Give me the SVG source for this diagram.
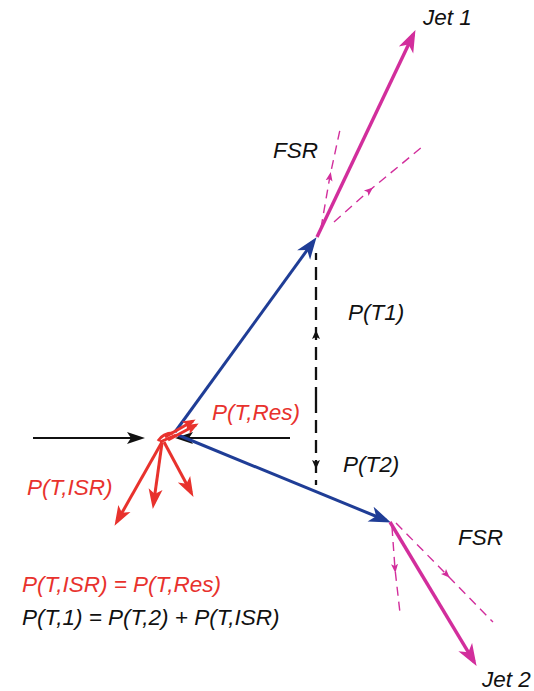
<svg xmlns="http://www.w3.org/2000/svg" width="534" height="691" viewBox="0 0 534 691">
<style>
text{font-family:"Liberation Sans",Arial,sans-serif;font-style:italic;font-size:22.5px}
.blk{fill:#111}
.red{fill:#e8322d}
.blue{stroke:#1f3d96;stroke-width:3;fill:none}
.jet{stroke:#d22e9c;stroke-width:3.4;fill:none}
.rd{stroke:#e8322d;stroke-width:3;fill:none}
.bk{stroke:#111;stroke-width:2;fill:none}
.fsr{stroke:#d22e9c;stroke-width:1.4;fill:none;stroke-dasharray:9 6}
.dsh{stroke:#111;stroke-width:2.3;fill:none;stroke-dasharray:13 7}
</style>
<defs>
<marker id="mb" markerUnits="userSpaceOnUse" markerWidth="24" markerHeight="18" viewBox="0 -9 24 18" refX="17" refY="0" orient="auto"><path d="M0,-8 L22,0 L0,8 L6,0 z" fill="#1f3d96"/></marker>
<marker id="mj" markerUnits="userSpaceOnUse" markerWidth="24" markerHeight="18" viewBox="0 -9 24 18" refX="17" refY="0" orient="auto"><path d="M0,-8 L22,0 L0,8 L6,0 z" fill="#d22e9c"/></marker>
<marker id="mr" markerUnits="userSpaceOnUse" markerWidth="22" markerHeight="16" viewBox="0 -8 22 16" refX="15" refY="0" orient="auto"><path d="M0,-7 L20,0 L0,7 L5,0 z" fill="#e8322d"/></marker>
<marker id="mrs" markerUnits="userSpaceOnUse" markerWidth="14" markerHeight="12" viewBox="0 -6 14 12" refX="10" refY="0" orient="auto"><path d="M0,-5 L13,0 L0,5 L3,0 z" fill="#e8322d"/></marker>
<marker id="mk" markerUnits="userSpaceOnUse" markerWidth="20" markerHeight="14" viewBox="0 -7 20 14" refX="14" refY="0" orient="auto"><path d="M0,-6 L18,0 L0,6 L4,0 z" fill="#111"/></marker>
<marker id="mks" markerUnits="userSpaceOnUse" markerWidth="10" markerHeight="12" viewBox="0 -6 10 12" refX="5" refY="0" orient="auto"><path d="M0,-4 L9,0 L0,4 L2,0 z" fill="#111"/></marker>
<marker id="mm" markerUnits="userSpaceOnUse" markerWidth="10" markerHeight="10" viewBox="0 -5 10 10" refX="5" refY="0" orient="auto"><path d="M0,-3.5 L9,0 L0,3.5 L2,0 z" fill="#d22e9c"/></marker>
</defs>
<g id="connectors">
<line class="bk" x1="33" y1="438" x2="141" y2="438" marker-end="url(#mk)"/>
<line class="bk" x1="290" y1="438" x2="179" y2="438" marker-end="url(#mk)"/>
<line class="blue" x1="175" y1="432" x2="313.6" y2="241.2" marker-end="url(#mb)"/>
<line class="blue" x1="178" y1="435" x2="386.3" y2="520.5" marker-end="url(#mb)"/>
<line class="jet" x1="317" y1="237" x2="413.3" y2="34.6" marker-end="url(#mj)"/>
<line class="jet" x1="390" y1="522" x2="474" y2="661.6" marker-end="url(#mj)"/>
<path class="fsr" d="M321,228 L330,176 L341,125" marker-mid="url(#mm)"/>
<path class="fsr" d="M334,222 L370,190 L422,147" marker-mid="url(#mm)"/>
<path class="fsr" d="M392,527 L395,569 L400,613" marker-mid="url(#mm)"/>
<path class="fsr" d="M396,523 L447,575 L493,622" marker-mid="url(#mm)"/>
<path class="dsh" d="M316,400 L316,334 L316,253" marker-mid="url(#mks)"/>
<path class="dsh" d="M316,400 L316,465 L316,485" marker-mid="url(#mks)"/>
<path class="rd" d="M158,441 Q163,433 173,433 M160,442 L176,435" stroke-width="2"/>
<line class="rd" x1="162" y1="442" x2="117" y2="521.5" marker-end="url(#mr)"/>
<line class="rd" x1="162" y1="443" x2="153.5" y2="504" marker-end="url(#mr)"/>
<line class="rd" x1="164" y1="442" x2="191.1" y2="492.5" marker-end="url(#mr)"/>
<line class="rd" x1="165" y1="437" x2="193" y2="421" stroke-width="2.5" marker-end="url(#mrs)"/>
<line class="rd" x1="168" y1="440" x2="196" y2="425" stroke-width="2.5" marker-end="url(#mrs)"/>
</g>
<g id="labels">
<text class="blk" x="423" y="25">Jet 1</text>
<text class="blk" x="273" y="158">FSR</text>
<text class="blk" x="348" y="320">P(T1)</text>
<text class="blk" x="343" y="472">P(T2)</text>
<text class="red" x="212" y="420">P(T,Res)</text>
<text class="red" x="27" y="495">P(T,ISR)</text>
<text class="blk" x="458" y="545">FSR</text>
<text class="blk" x="482" y="687">Jet 2</text>
<text class="red" x="22" y="592">P(T,ISR) = P(T,Res)</text>
<text class="blk" x="22" y="625">P(T,1) = P(T,2) + P(T,ISR)</text>
</g>
</svg>
